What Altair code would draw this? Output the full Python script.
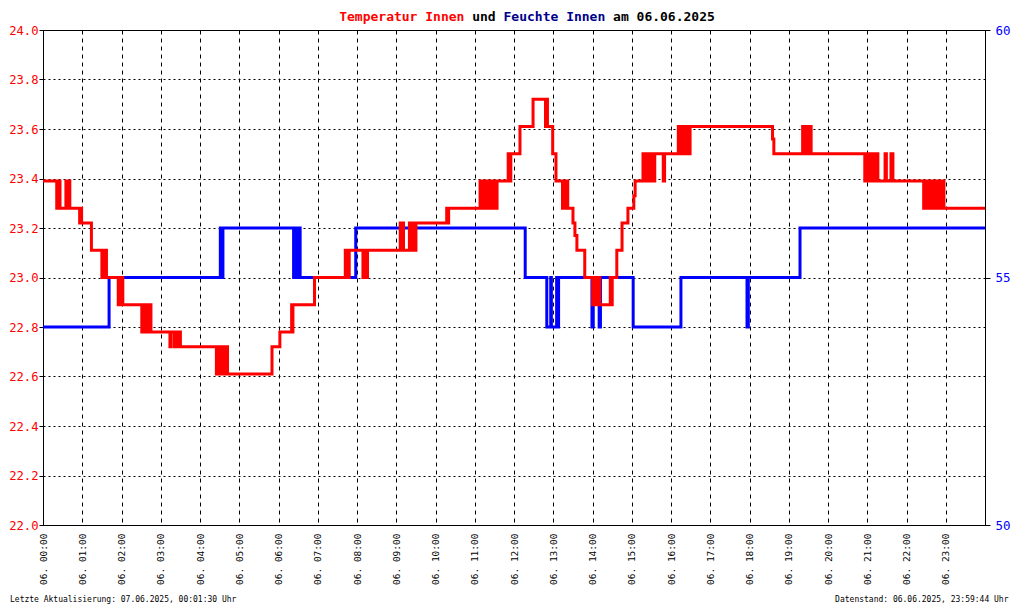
import altair as alt
import pandas as pd

DATE = "2025-06-06"

# Temperatur Innen (°C) - change points (time, value), step-after
red_times = [
    "00:00", "00:21", "00:22", "00:23", "00:24", "00:26", "00:35", "00:37", "00:39", "00:41",
    "00:56", "00:58", "00:59", "01:14", "01:30", "01:32", "01:34", "01:36", "01:37",
    "01:55", "01:57", "01:59", "02:01", "02:02", "02:31", "02:33", "02:35", "02:37", "02:40",
    "02:42", "02:45", "03:14", "03:16", "03:21", "03:23", "03:25", "03:27", "03:30",
    "04:25", "04:27", "04:29", "04:31", "04:33", "04:35", "04:37", "04:40", "04:42",
    "05:50", "06:02", "06:20", "06:21", "06:22", "06:55",
    "07:42", "07:43", "07:45", "07:46", "07:48",
    "08:09", "08:10", "08:12", "08:14", "08:15", "08:16",
    "09:06", "09:08", "09:10", "09:11", "09:20", "09:21", "09:23", "09:25", "09:27", "09:28", "09:30",
    "10:17", "10:18", "10:20",
    "11:08", "11:10", "11:12", "11:14", "11:16", "11:18", "11:20", "11:22", "11:24", "11:26",
    "11:28", "11:30", "11:32", "11:33", "11:34",
    "11:51", "11:52", "11:53", "11:54", "11:55", "12:09", "12:29", "12:48", "12:49", "12:51",
    "12:59", "13:04", "13:14", "13:16", "13:19", "13:20", "13:22", "13:30", "13:33", "13:36", "13:48",
    "14:00", "14:02", "14:04", "14:06", "14:08", "14:10", "14:11", "14:27", "14:28", "14:30",
    "14:37", "14:45", "14:54", "15:03", "15:05",
    "15:17", "15:19", "15:21", "15:23", "15:24", "15:26", "15:28", "15:32", "15:35", "15:48", "15:50",
    "16:11", "16:13", "16:15", "16:17", "16:19", "16:21", "16:23", "16:25", "16:27", "16:28", "16:29",
    "18:35", "18:37",
    "19:21", "19:23", "19:25", "19:27", "19:29", "19:31", "19:33", "19:34",
    "20:56", "20:58", "21:00", "21:02", "21:04", "21:06", "21:08", "21:10", "21:12", "21:14", "21:16",
    "21:27", "21:29", "21:36", "21:39",
    "22:26", "22:28", "22:30", "22:32", "22:34", "22:36", "22:38", "22:40", "22:42", "22:44",
    "22:46", "22:48", "22:50", "22:52", "22:54", "22:56", "22:57",
    "23:59:44",
]
red_values = [
    23.39, 23.28, 23.39, 23.28, 23.39, 23.28, 23.39, 23.28, 23.39, 23.28,
    23.22, 23.28, 23.22, 23.11, 23.0, 23.11, 23.0, 23.11, 23.0,
    22.89, 23.0, 22.89, 23.0, 22.89, 22.78, 22.89, 22.78, 22.89, 22.78,
    22.89, 22.78, 22.72, 22.78, 22.72, 22.78, 22.72, 22.78, 22.72,
    22.61, 22.72, 22.61, 22.72, 22.61, 22.72, 22.61, 22.72, 22.61,
    22.72, 22.78, 22.89, 22.78, 22.89, 23.0,
    23.11, 23.0, 23.11, 23.0, 23.11,
    23.0, 23.11, 23.0, 23.11, 23.0, 23.11,
    23.22, 23.11, 23.22, 23.11, 23.22, 23.11, 23.22, 23.11, 23.22, 23.11, 23.22,
    23.28, 23.22, 23.28,
    23.39, 23.28, 23.39, 23.28, 23.39, 23.28, 23.39, 23.28, 23.39, 23.28,
    23.39, 23.28, 23.39, 23.28, 23.39,
    23.5, 23.39, 23.5, 23.39, 23.5, 23.61, 23.72, 23.61, 23.72, 23.61,
    23.5, 23.39, 23.28, 23.39, 23.28, 23.39, 23.28, 23.22, 23.17, 23.11, 23.0,
    22.89, 23.0, 22.89, 23.0, 22.89, 23.0, 22.89, 23.0, 22.89, 23.0,
    23.11, 23.22, 23.28, 23.33, 23.39,
    23.5, 23.39, 23.5, 23.39, 23.5, 23.39, 23.5, 23.39, 23.5, 23.39, 23.5,
    23.61, 23.5, 23.61, 23.5, 23.61, 23.5, 23.61, 23.5, 23.61, 23.5, 23.61,
    23.56, 23.5,
    23.61, 23.5, 23.61, 23.5, 23.61, 23.5, 23.61, 23.5,
    23.39, 23.5, 23.39, 23.5, 23.39, 23.5, 23.39, 23.5, 23.39, 23.5, 23.39,
    23.5, 23.39, 23.5, 23.39,
    23.28, 23.39, 23.28, 23.39, 23.28, 23.39, 23.28, 23.39, 23.28, 23.39,
    23.28, 23.39, 23.28, 23.39, 23.28, 23.39, 23.28,
    23.28,
]

# Feuchte Innen (%) - change points
blue_times = [
    "00:00", "01:41", "04:31", "04:32", "04:35", "06:23", "06:24", "06:26", "06:28", "06:30",
    "06:31", "06:33", "07:58", "12:17", "12:50", "12:56", "12:57", "13:05", "13:06", "13:08",
    "13:59", "14:01", "14:10", "14:12", "15:02", "16:15", "17:56", "17:58", "19:17", "23:59:44",
]
blue_values = [
    54, 55, 56, 55, 56, 55, 56, 55, 56, 55,
    56, 55, 56, 55, 54, 55, 54, 55, 54, 55,
    54, 55, 54, 55, 54, 55, 54, 55, 56, 56,
]

temp_ticks = [22.0, 22.2, 22.4, 22.6, 22.8, 23.0, 23.2, 23.4, 23.6, 23.8, 24.0]
hum_ticks = [50, 55, 60]
hours = list(range(24))

title_parts = ["Temperatur Innen", "und", "Feuchte Innen", "am 06.06.2025"]
title_colors = ["#ff0000", "#000000", "#00008b", "#000000"]
footer_left = "Letzte Aktualisierung: 07.06.2025, 00:01:30 Uhr"
footer_right = "Datenstand: 06.06.2025, 23:59:44 Uhr"


def iso(t):
    if t.count(":") == 1:
        t = t + ":00"
    return f"{DATE}T{t}"


temp_df = pd.DataFrame({"zeit": [iso(t) for t in red_times], "temp": red_values})
hum_df = pd.DataFrame({"zeit": [iso(t) for t in blue_times], "feuchte": blue_values})

MONO = "DejaVu Sans Mono"
W, H = 942, 495

x_scale = alt.Scale(
    domain=[
        alt.DateTime(year=2025, month=6, date=6, hours=0),
        alt.DateTime(year=2025, month=6, date=6, hours=23, minutes=59, seconds=44),
    ],
    nice=False,
)
x_axis = alt.Axis(
    values=[alt.DateTime(year=2025, month=6, date=6, hours=h) for h in hours],
    format="%d. %H:%M",
    labelAngle=270,
    labelAlign="right",
    labelBaseline="middle",
    labelPadding=8,
    labelFlush=False,
    labelOverlap=False,
    labelFont=MONO,
    labelFontSize=9.5,
    labelColor="black",
    tickSize=0,
    domain=False,
    grid=True,
    gridColor="black",
    gridOpacity=1,
    gridWidth=1,
    gridDash=[4, 4],
    title=None,
)

hum_line = alt.Chart(hum_df).mark_line(
    interpolate="step-after", color="#0000ff", strokeWidth=3
).encode(
    x=alt.X("zeit:T", scale=x_scale, axis=x_axis),
    y=alt.Y(
        "feuchte:Q",
        scale=alt.Scale(domain=[50, 60], nice=False, zero=False),
        axis=alt.Axis(
            orient="right",
            values=hum_ticks,
            format="d",
            labelColor="#0000ff",
            labelFont=MONO,
            labelFontSize=12.5,
            labelPadding=5,
            labelFlush=False,
            tickSize=5,
            tickColor="black",
            domainColor="black",
            grid=False,
            title=None,
        ),
    ),
)

temp_line = alt.Chart(temp_df).mark_line(
    interpolate="step-after", color="#ff0000", strokeWidth=3
).encode(
    x=alt.X("zeit:T", scale=x_scale, axis=x_axis),
    y=alt.Y(
        "temp:Q",
        scale=alt.Scale(domain=[22, 24], nice=False, zero=False),
        axis=alt.Axis(
            orient="left",
            values=temp_ticks,
            format=".1f",
            labelColor="#ff0000",
            labelFont=MONO,
            labelFontSize=12.2,
            labelPadding=1,
            labelFlush=False,
            tickSize=4,
            tickColor="black",
            domainColor="black",
            grid=True,
            gridColor="black",
            gridOpacity=1,
            gridDash=[2, 3],
            title=None,
        ),
    ),
)

# multi-coloured title, monospaced segments
TITLE_FS = 13
CW = 0.602 * TITLE_FS
full_len = 48
title_start = (527 - 43) - full_len * CW / 2
offsets = [0, 17, 21, 35]
title_layers = []
for part, col, off in zip(title_parts, title_colors, offsets):
    title_layers.append(
        alt.Chart(pd.DataFrame({"txt": [part]})).mark_text(
            font=MONO, fontSize=TITLE_FS, fontWeight="bold", color=col,
            align="left", baseline="alphabetic"
        ).encode(text="txt:N", x=alt.value(title_start + off * CW), y=alt.value(-9.5))
    )

foot_l = alt.Chart(pd.DataFrame({"txt": [footer_left]})).mark_text(
    font=MONO, fontSize=8, color="black", align="left", baseline="alphabetic"
).encode(text="txt:N", x=alt.value(-33), y=alt.value(572))

foot_r = alt.Chart(pd.DataFrame({"txt": [footer_right]})).mark_text(
    font=MONO, fontSize=8, color="black", align="right", baseline="alphabetic"
).encode(text="txt:N", x=alt.value(965.5), y=alt.value(572))

chart = alt.layer(hum_line, temp_line, *title_layers, foot_l, foot_r).resolve_scale(
    y="independent"
).properties(
    width=W,
    height=H,
    autosize=alt.AutoSizeParams(type="none"),
    padding={"left": 35, "top": 22, "right": 27, "bottom": 81},
    background="white",
).configure_view(
    stroke="black", strokeWidth=1
)

chart.save("out.html", embed_options={"renderer": "svg", "actions": False})
